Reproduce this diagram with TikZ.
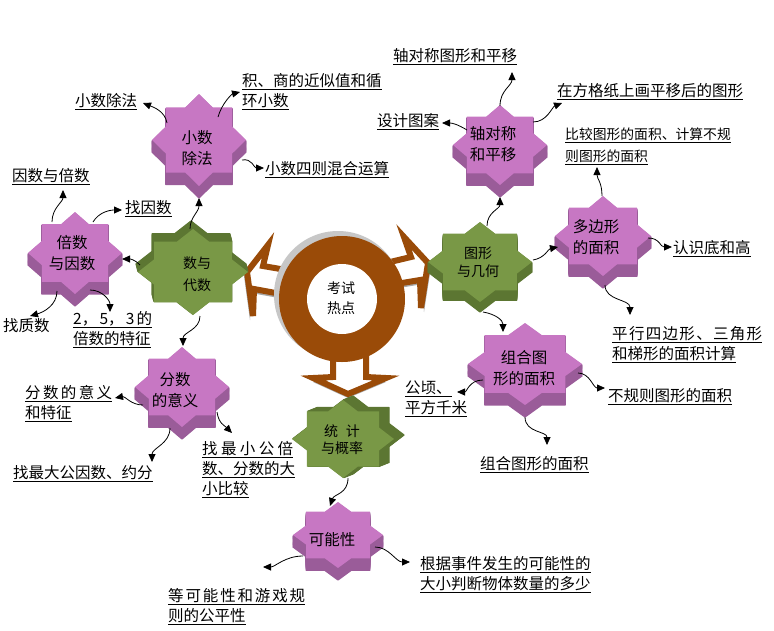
\documentclass[tikz,border=0pt]{standalone}
\usepackage{fontspec}
\setmainfont{Noto Sans CJK SC}
\usetikzlibrary{arrows.meta,calc}
\definecolor{pinkF}{HTML}{C777C3}
\definecolor{pinkD}{HTML}{9A5C99}
\definecolor{greenF}{HTML}{799846}
\definecolor{greenD}{HTML}{5C7632}
\definecolor{brownC}{HTML}{9A4B08}
\newcommand{\mystar}[8]{%
  \foreach \t in {1,0.9,...,0.05}{%
    \filldraw[fill=#8, draw=#8, line width=1.2pt, line join=round] plot[samples at={0,22.5,...,337.5}] ({#1+\t*#5+#3*(1-0.2346*abs(sin(4*\x)))*cos(\x)},{#2+\t*#6+#4*(1-0.2346*abs(sin(4*\x)))*sin(\x)}) -- cycle;
  }
  \fill[#7] plot[samples at={0,22.5,...,337.5}] ({#1+#3*(1-0.2346*abs(sin(4*\x)))*cos(\x)},{#2+#4*(1-0.2346*abs(sin(4*\x)))*sin(\x)}) -- cycle;
}
\tikzset{
  conn/.style={draw=black, line width=0.8pt, -{Triangle[length=8pt,width=7pt]}},
  lbl/.style={anchor=north west, inner sep=0pt, align=left, font=\fontsize{15.5}{20}\selectfont},
  stxt/.style={inner sep=0pt, align=center, font=\fontsize{15.5}{21}\selectfont},
  gtxt/.style={inner sep=0pt, align=center, font=\fontsize{14}{19}\selectfont},
  barrow/.style={draw=brownC, line width=6pt, fill=white, line join=miter},
  bshadow/.style={fill=black!35},
}
\begin{document}
\begin{tikzpicture}[x=1pt,y=-1pt]
\useasboundingbox (0,0) rectangle (774,630);
\fill[white] (0,0) rectangle (774,630);

% block arrows from the centre ring
\fill[bshadow] (244,276) -- (265,249) -- (260,270) -- (290,275) -- (290,300) -- (251,293) -- (250,320) -- cycle;
\draw[barrow] (247,272) -- (268,245) -- (263,266) -- (292,271) -- (292,296) -- (254,289) -- (253,316) -- cycle;
\fill[bshadow] (431,267) -- (407,241) -- (414,261) -- (393,266) -- (393,289) -- (423,284) -- (424,312) -- cycle;
\draw[barrow] (428,263) -- (404,237) -- (411,257) -- (390,262) -- (390,285) -- (420,280) -- (421,308) -- cycle;
\fill[bshadow] (333,359) -- (333,381) -- (313,382) -- (348,398) -- (386,382) -- (366,381) -- (366,359) -- cycle;
\draw[barrow] (333,355) -- (333,377) -- (313,378) -- (348,394) -- (386,378) -- (366,377) -- (366,355) -- cycle;

% centre ring
\coordinate (ring) at (342,299);
\fill[black!22] (338,295) circle[radius=64];
\fill[brownC] (ring) circle[radius=63];
\fill[white] (ring) circle[radius=35];
\node[gtxt, font=\fontsize{14}{20}\selectfont] (ct) at (341,298) {考试\\热点};

% star coordinates
\coordinate (s1) at (199,140);
\coordinate (s2) at (75,253);
\coordinate (s3) at (182,387);
\coordinate (s4) at (338,535);
\coordinate (s5) at (500,145);
\coordinate (s6) at (603,236);
\coordinate (s7) at (525,364);
\coordinate (g1) at (193,272);
\coordinate (g2) at (480,262);
\coordinate (g3) at (343,439);

% stars
\mystar{199}{140}{47}{46}{0}{12}{pinkF}{pinkD}
\mystar{75}{253}{47}{41}{0}{12}{pinkF}{pinkD}
\mystar{182}{387}{47}{40}{0}{12}{pinkF}{pinkD}
\mystar{338}{535}{45}{33}{0}{12}{pinkF}{pinkD}
\mystar{500}{145}{47}{40}{0}{12}{pinkF}{pinkD}
\mystar{603}{236}{48}{40}{0}{12}{pinkF}{pinkD}
\mystar{525}{364}{57}{41}{0}{12}{pinkF}{pinkD}
\mystar{193}{272}{55}{43}{-2}{-8}{greenF}{greenD}
\mystar{480}{262}{52}{40}{0}{10}{greenF}{greenD}
\mystar{343}{439}{51}{39}{10}{-4}{greenF}{greenD}

% star texts
\node[stxt] (s1t) at (197,148) {小数\\除法};
\node[stxt] (s2t) at (72,253) {倍数\\与因数};
\node[stxt] (s3t) at (175,390) {分数\\的意义};
\node[stxt] (s4t) at (332,540) {可能性};
\node[stxt] (s5t) at (493,144) {轴对称\\和平移};
\node[stxt] (s6t) at (596,237) {多边形\\的面积};
\node[stxt] (s7t) at (524,368) {组合图\\形的面积};
\node[gtxt, font=\fontsize{14}{22}\selectfont] (g1t) at (197,274) {数与\\代数};
\node[gtxt, font=\fontsize{14}{18}\selectfont] (g2t) at (478,262) {图形\\与几何};
\node[gtxt, font=\fontsize{14}{17}\selectfont] (g3t) at (342,440) {统\hspace{8pt}计\\与概率};

% labels
\node[lbl] (L1) at (75,93) {\underline{小数除法}};
\node[lbl] (L2) at (242,73) {\underline{积、商的近似值和循}\\\underline{环小数}};
\node[lbl] (L3) at (265,161) {\underline{小数四则混合运算}};
\node[lbl] (L4) at (12,168) {\underline{因数与倍数}};
\node[lbl] (L5) at (125,200) {\underline{找因数}};
\node[lbl] (L6) at (3,318) {找质数};
\node[lbl] (L7) at (73,311) {\underline{\makebox[79pt][l]{2，\hfill 5，\hfill 3\hfill 的}}\\\underline{倍数的特征}};
\node[lbl] (L8) at (25,385) {\underline{\makebox[87pt][l]{分\hfill 数\hfill 的\hfill 意\hfill 义}}\\\underline{和特征}};
\node[lbl] (L9) at (13,465) {\underline{找最大公因数、约分}};
\node[lbl] (L10) at (202,441) {\underline{\makebox[91pt][l]{找\hfill 最\hfill 小\hfill 公\hfill 倍}}\\\underline{数、分数的大}\\\underline{小比较}};
\node[lbl] (L11) at (168,588) {\underline{\makebox[137pt][l]{等\hfill 可\hfill 能\hfill 性\hfill 和\hfill 游\hfill 戏\hfill 规}}\\\underline{则的公平性}};
\node[lbl] (L12) at (420,556) {\underline{根据事件发生的可能性的}\\\underline{大小判断物体数量的多少}};
\node[lbl] (L13) at (393,48) {\underline{轴对称图形和平移}};
\node[lbl] (L14) at (557,83) {\underline{在方格纸上画平移后的图形}};
\node[lbl] (L15) at (377,113) {\underline{设计图案}};
\node[lbl, font=\fontsize{13.8}{22}\selectfont] (L16) at (565,128) {\underline{比较图形的面积、计算不规}\\\underline{则图形的面积}};
\node[lbl] (L17) at (673,240) {\underline{认识底和高}};
\node[lbl] (L18) at (612,326) {\underline{\makebox[150pt][l]{平\hfill 行\hfill 四\hfill 边\hfill 形\hfill 、\hfill 三\hfill 角\hfill 形}}\\\underline{和梯形的面积计算}};
\node[lbl] (L19) at (405,381) {\underline{公顷、}\\\underline{平方千米}};
\node[lbl] (L20) at (608,388) {\underline{不规则图形的面积}};
\node[lbl] (L21) at (480,456) {\underline{组合图形的面积}};

% connectors
\draw[conn] ($(s1)+(-32,-17)$) .. controls +(-2,-12) and +(10,4) .. ($(L1.north west)+(68,10)$);
\draw[conn] ($(s1)+(19,-23)$) .. controls +(4,-14) and +(-8,2) .. ($(L2.north west)+(-2,19)$);
\draw[conn] ($(s1)+(43,20)$) .. controls +(10,-2) and +(-10,0) .. ($(L3.north west)+(-1,7)$);
\draw[conn] ($(s2)+(-23,-31)$) .. controls +(0,-14) and +(0,12) .. ($(L4.north west)+(51,22)$);
\draw[conn] ($(s2)+(18,-31)$) .. controls +(6,-10) and +(-12,0) .. ($(L5.north west)+(-3,10)$);
\draw[conn] ($(s2)+(-18,38)$) .. controls +(0,14) and +(14,-4) .. ($(L6.north west)+(27,-2)$);
\draw[conn] ($(s2)+(15,37)$) .. controls +(12,0) and +(0,-12) .. ($(L7.north west)+(37,1)$);
\draw[conn] ($(g1)+(-3,-43)$) .. controls +(0,-12) and +(0,14) .. ($(s1)+(0,58)$);
\draw[conn] ($(g1)+(-53,-7)$) .. controls +(-6,-6) and +(8,0) .. ($(s2)+(47,6)$);
\draw[conn] ($(g1)+(7,44)$) .. controls +(0,14) and +(0,-14) .. ($(s3)+(1,-41)$);
\draw[conn] ($(s3)+(-39,18)$) .. controls +(-12,0) and +(10,-2) .. ($(L8.north west)+(90,13)$);
\draw[conn] ($(s3)+(-12,41)$) .. controls +(0,16) and +(0,-14) .. ($(L9.north west)+(139,-3)$);
\draw[conn] ($(s3)+(35,25)$) .. controls +(2,12) and +(-8,-8) .. ($(L10.north west)+(30,-8)$);
\draw[conn] ($(g3)+(5,39)$) .. controls +(0,16) and +(4,-12) .. ($(s4)+(-8,-29)$);
\draw[conn] ($(s4)+(-35,21)$) .. controls +(-18,0) and +(12,0) .. ($(L11.north west)+(95,-21)$);
\draw[conn] ($(s4)+(37,12)$) .. controls +(14,0) and +(-14,0) .. ($(L12.north west)+(-10,6)$);
\draw[conn] ($(g2)+(7,-36)$) .. controls +(0,-14) and +(0,12) .. ($(s5)+(0,52)$);
\draw[conn] ($(g2)+(53,-2)$) .. controls +(12,-2) and +(-10,2) .. ($(s6)+(-45,11)$);
\draw[conn] ($(g2)+(3,50)$) .. controls +(12,2) and +(0,-12) .. ($(s7)+(-22,-32)$);
\draw[conn] ($(s5)+(0,-39)$) .. controls +(0,-16) and +(0,14) .. ($(L13.north west)+(119,24)$);
\draw[conn] ($(s5)+(33,-23)$) .. controls +(14,0) and +(-10,4) .. ($(L14.north west)+(5,20)$);
\draw[conn] ($(s5)+(-33,-15)$) .. controls +(-10,-6) and +(10,0) .. ($(L15.north west)+(65,10)$);
\draw[conn] ($(s6)+(-1,-40)$) .. controls +(0,-14) and +(0,12) .. ($(L16.north west)+(32,39)$);
\draw[conn] ($(s6)+(45,2)$) .. controls +(12,0) and +(-12,0) .. ($(L17.north west)+(-1,7)$);
\draw[conn] ($(s6)+(2,49)$) .. controls +(0,16) and +(0,-16) .. ($(L18.north west)+(18,-11)$);
\draw[conn] ($(s7)+(-42,16)$) .. controls +(-14,0) and +(10,0) .. ($(L19.north west)+(52,11)$);
\draw[conn] ($(s7)+(53,9)$) .. controls +(12,0) and +(-12,0) .. ($(L20.north west)+(-3,0)$);
\draw[conn] ($(s7)+(0,53)$) .. controls +(0,16) and +(0,-14) .. ($(L21.north west)+(67,-11)$);
\end{tikzpicture}
\end{document}
